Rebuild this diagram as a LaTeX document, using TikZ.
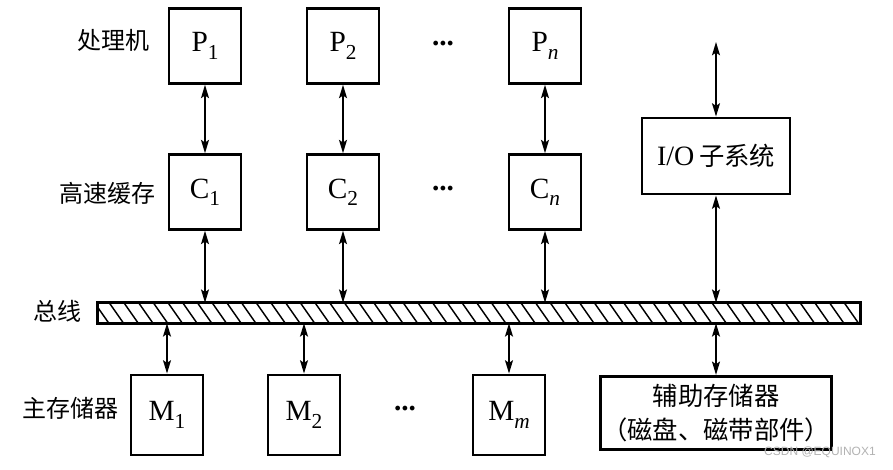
\documentclass[tikz,border=0pt]{standalone}
\usepackage{fontspec}
\setmainfont{Liberation Serif}
\newfontfamily\cjk{Noto Sans CJK SC}
\newfontfamily\wmfont{Liberation Sans}
\usetikzlibrary{arrows.meta}
\newcommand{\sbx}[1]{\raisebox{-5.5pt}{\fontsize{16}{16}\selectfont #1}}
\begin{document}
\begin{tikzpicture}[x=0.75pt,y=-0.75pt,
  box/.style={draw,line width=2.2pt,inner sep=0pt,minimum width=54pt,minimum height=56pt,font=\fontsize{22}{24}\selectfont},
  lbl/.style={font=\cjk\fontsize{18}{20}\selectfont,inner sep=0pt},
  dbl/.style={line width=1.1pt,{Stealth[length=10pt,width=6pt,inset=2pt]}-{Stealth[length=10pt,width=6pt,inset=2pt]}},
  dots/.style={font=\fontsize{22}{24}\selectfont\bfseries,inner sep=0pt}]
\useasboundingbox (0,0) rectangle (893,469);
% processors
\node[box] (P1) at (205,46) {P\sbx{1}};
\node[box] (P2) at (343,46) {P\sbx{2}};
\node[box] (Pn) at (545,46) {P\sbx{\textit{n}}};
% caches
\node[box] (C1) at (205,192) {C\sbx{1}};
\node[box] (C2) at (343,192) {C\sbx{2}};
\node[box] (Cn) at (545,192) {C\sbx{\textit{n}}};
% IO
\node[box,minimum width=111pt,minimum height=57pt,font=\fontsize{21}{24}\selectfont] (IO) at (716,156) {I/O\,{\cjk\fontsize{19}{24}\selectfont 子系统}};
\coordinate (iotop) at (716,42);
% bus
\node[draw=none,inner sep=0pt,minimum width=571.5pt,minimum height=15pt] (bus) at (479,313) {};
\begin{scope}
\clip (bus.south west) rectangle (bus.north east);
\foreach \x in {80,94.7,...,880} \draw[line width=1.1pt] (\x,303) -- (\x+14,323);
\end{scope}
\draw[line width=2.2pt] (bus.south west) rectangle (bus.north east);
% memories
\node[box,minimum width=54pt,minimum height=60pt] (M1) at (167,415) {M\sbx{1}};
\node[box,minimum width=54pt,minimum height=60pt] (M2) at (304,415) {M\sbx{2}};
\node[box,minimum width=54pt,minimum height=60pt] (Mm) at (509,415) {M\sbx{\textit{m}}};
\node[box,minimum width=173pt,minimum height=55pt,align=center,font=\cjk\fontsize{19}{26}\selectfont] (AUX) at (716,413) {辅助存储器\\（磁盘、磁带部件）};
% dots
\node[dots] (d1) at (443,44) {...};
\node[dots] (d2) at (443,189) {...};
\node[dots] (d3) at (405,409) {...};
% labels
\node[lbl] (l1) at (113,40) {处理机};
\node[lbl] (l2) at (107,193) {高速缓存};
\node[lbl] (l3) at (57,311) {总线};
\node[lbl] (l4) at (70,408) {主存储器};
% arrows
\draw[dbl] (P1.south) -- (C1.north);
\draw[dbl] (P2.south) -- (C2.north);
\draw[dbl] (Pn.south) -- (Cn.north);
\draw[dbl] (C1.south) -- (C1.south |- bus.north);
\draw[dbl] (C2.south) -- (C2.south |- bus.north);
\draw[dbl] (Cn.south) -- (Cn.south |- bus.north);
\draw[dbl] (iotop) -- (IO.north);
\draw[dbl] (IO.south) -- (IO.south |- bus.north);
\draw[dbl] (M1.north |- bus.south) -- (M1.north);
\draw[dbl] (M2.north |- bus.south) -- (M2.north);
\draw[dbl] (Mm.north |- bus.south) -- (Mm.north);
\draw[dbl] (AUX.north |- bus.south) -- (AUX.north);
% watermark
\node[font=\wmfont\fontsize{9}{10}\selectfont,text=black!30,inner sep=0pt] (wm) at (820,452) {CSDN @EQUINOX1};
\end{tikzpicture}
\end{document}
